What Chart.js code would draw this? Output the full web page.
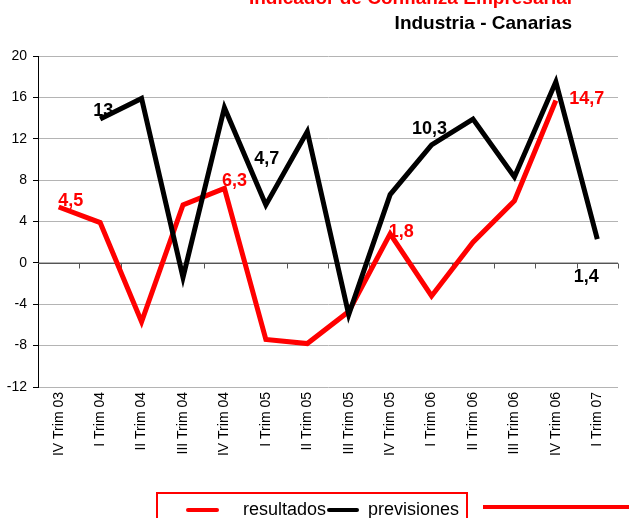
<!DOCTYPE html>
<html>
<head>
<meta charset="utf-8">
<title>Indicador de Confianza Empresarial</title>
<script src="https://cdn.jsdelivr.net/npm/chart.js@4"></script>
<style>
  body { margin: 0; background: #fff; }
  canvas { display: block; }
</style>
</head>
<body>
<canvas id="myChart" width="629" height="518"></canvas>
<script>
// categories
const quarters = ["IV Trim 03", "I Trim 04", "II Trim 04", "III Trim 04", "IV Trim 04",
  "I Trim 05", "II Trim 05", "III Trim 05", "IV Trim 05", "I Trim 06",
  "II Trim 06", "III Trim 06", "IV Trim 06", "I Trim 07"];

// series values
const resultados = [5.4, 3.9, -5.7, 5.6, 7.2, -7.4, -7.8, -4.7, 2.8, -3.2, 2.0, 6.0, 15.7, null];
const previsiones = [null, 13.9, 15.9, -1.4, 15.0, 5.6, 12.7, -5.0, 6.6, 11.4, 13.9, 8.3, 17.5, 2.3];

// value labels printed on the chart
const resultadosLabels = ["4,5", null, null, null, "6,3", null, null, null, "1,8", null, null, null, "14,7", null];
const previsionesLabels = [null, "13", null, null, null, "4,7", null, null, null, "10,3", null, null, null, "1,4"];

// y axis
const yMin = -12;
const yMax = 20;
const yStep = 4;

const titleText = "Indicador de Confianza Empresarial";
const subtitleText = "Industria - Canarias";

const FONT = "'Liberation Sans', Arial, sans-serif";
Chart.defaults.font.family = FONT;
Chart.defaults.color = "#000";

// label offsets from the point (px)
const labelOffsets = {
  0: { 0: [12, -6], 4: [10, -7], 8: [11, -2], 12: [31, -1] },
  1: { 1: [3, -8], 5: [1, -46], 9: [-2, -16], 13: [-11, 38] }
};

const extras = {
  id: "extras",
  beforeDatasetsDraw(chart) {
    const { ctx, chartArea, scales } = chart;
    const x = scales.x, y = scales.y;
    ctx.save();
    // zero line with tick marks
    const y0 = Math.round(y.getPixelForValue(0)) + 0.5;
    ctx.strokeStyle = "#555";
    ctx.lineWidth = 1;
    ctx.beginPath();
    ctx.moveTo(chartArea.left, y0);
    ctx.lineTo(chartArea.right, y0);
    for (let k = 1; k <= quarters.length; k++) {
      const px = Math.round(x.getPixelForValue(k - 0.5)) + 0.5;
      ctx.moveTo(px, y0);
      ctx.lineTo(px, y0 + 5);
    }
    ctx.stroke();

    // value labels
    ctx.font = "bold 18px " + FONT;
    ctx.textAlign = "center";
    ctx.textBaseline = "middle";
    const labelSets = [resultadosLabels, previsionesLabels];
    const colors = ["#ff0000", "#000000"];
    labelSets.forEach((labels, di) => {
      const meta = chart.getDatasetMeta(di);
      labels.forEach((t, i) => {
        if (!t) return;
        const pt = meta.data[i];
        const off = labelOffsets[di][i] || [0, -10];
        ctx.fillStyle = colors[di];
        ctx.fillText(t, pt.x + off[0], pt.y + off[1]);
      });
    });
    ctx.restore();
  },
  afterDraw(chart) {
    const { ctx } = chart;
    ctx.save();
    // titles
    ctx.font = "bold 19px " + FONT;
    ctx.textAlign = "right";
    ctx.textBaseline = "alphabetic";
    ctx.fillStyle = "#ff0000";
    ctx.fillText(titleText, 572, 4);
    ctx.fillStyle = "#000";
    ctx.fillText(subtitleText, 572, 29);

    // legend
    ctx.strokeStyle = "#ff0000";
    ctx.lineWidth = 2;
    ctx.strokeRect(157, 493, 310, 40);

    ctx.lineCap = "round";
    ctx.lineWidth = 4;
    ctx.beginPath();
    ctx.moveTo(188, 510); ctx.lineTo(217, 510);
    ctx.stroke();
    ctx.strokeStyle = "#000";
    ctx.beginPath();
    ctx.moveTo(329, 510); ctx.lineTo(357, 510);
    ctx.stroke();

    ctx.lineCap = "butt";
    ctx.strokeStyle = "#ff0000";
    ctx.beginPath();
    ctx.moveTo(483, 507); ctx.lineTo(629, 507);
    ctx.stroke();

    ctx.font = "18px " + FONT;
    ctx.textAlign = "left";
    ctx.fillStyle = "#000";
    ctx.fillText(chart.data.datasets[0].label, 243, 515);
    ctx.fillText(chart.data.datasets[1].label, 368, 515);
    ctx.restore();
  }
};

const ctx = document.getElementById("myChart").getContext("2d");
const myChart = new Chart(ctx, {
  type: "line",
  data: {
    labels: quarters,
    datasets: [
      {
        label: "resultados",
        data: resultados,
        borderColor: "#ff0000",
        borderWidth: 5,
        pointRadius: 0,
        tension: 0,
        borderJoinStyle: "miter",
        order: 2
      },
      {
        label: "previsiones",
        data: previsiones,
        borderColor: "#000000",
        borderWidth: 5,
        pointRadius: 0,
        tension: 0,
        borderJoinStyle: "miter",
        order: 1
      }
    ]
  },
  options: {
    responsive: false,
    animation: false,
    layout: { padding: { top: 56, right: 11, left: 0, bottom: 0 } },
    plugins: {
      legend: { display: false },
      title: { display: false },
      tooltip: { enabled: false }
    },
    scales: {
      x: {
        offset: true,
        grid: { display: false, drawTicks: false },
        border: { display: false },
        ticks: {
          minRotation: 90,
          maxRotation: 90,
          padding: 5,
          autoSkip: false,
          font: { size: 14 },
          color: "#000"
        },
        afterFit(scale) { scale.height = 131; }
      },
      y: {
        min: yMin,
        max: yMax,
        ticks: {
          stepSize: yStep,
          padding: 6,
          font: { size: 14 },
          color: "#000"
        },
        grid: {
          color: "#b4b4b4",
          tickColor: "#000",
          tickLength: 5
        },
        border: { display: true, color: "#000", width: 1 },
        afterFit(scale) { scale.width = 38; }
      }
    }
  },
  plugins: [extras]
});
</script>
</body>
</html>
